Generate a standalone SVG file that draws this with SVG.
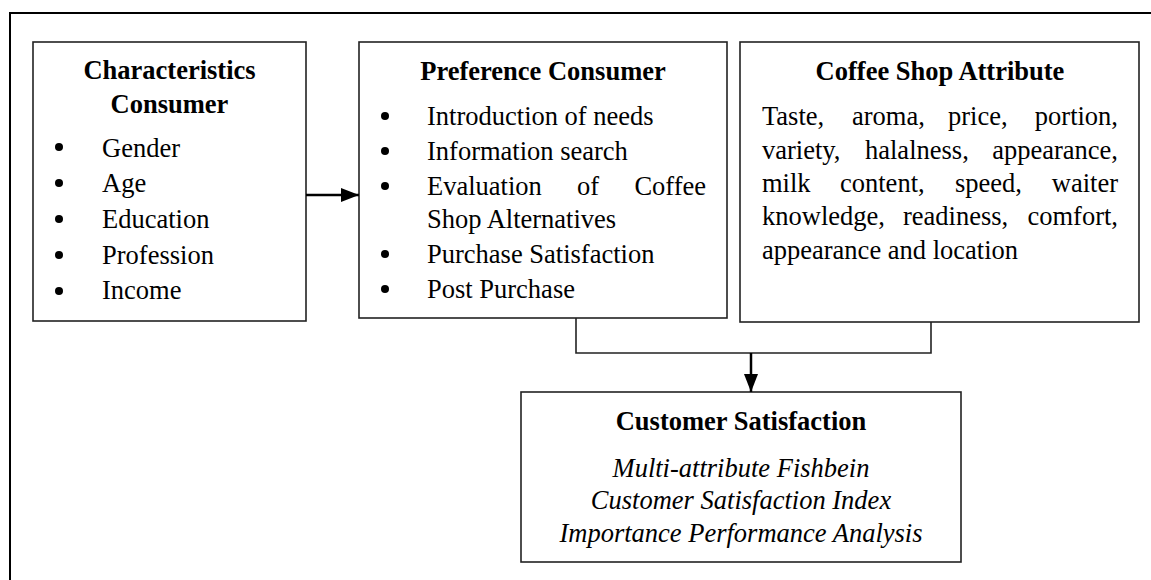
<svg xmlns="http://www.w3.org/2000/svg" width="1151" height="580" viewBox="0 0 1151 580">
<style>
.box{fill:#fff;stroke:#222;stroke-width:1.6}
.t{font-family:"Liberation Serif","Times New Roman",serif;font-size:26.5px;fill:#000}
.b{font-weight:bold}
.i{font-style:italic}
.c{text-anchor:middle}
.e{text-anchor:end}
.ln{fill:none;stroke:#222;stroke-width:1.6}
.arr{fill:none;stroke:#000;stroke-width:2.5}
.frame{fill:none;stroke:#000;stroke-width:2}
</style>
<defs>
<marker id="ah" markerWidth="18" markerHeight="14" refX="18" refY="7" orient="auto" markerUnits="userSpaceOnUse" viewBox="0 0 18 14">
<path d="M0,0 L18,7 L0,14 z" fill="#000"/>
</marker>
</defs>
<rect width="1151" height="580" fill="#fff"/>
<path class="frame" d="M10,580 V13 H1151"/>

<g id="characteristics">
<rect class="box" x="33" y="42" width="273" height="279"/>
<text class="t b c" x="169.5" y="79">Characteristics</text>
<text class="t b c" x="169.5" y="113">Consumer</text>
<g fill="#000"><circle cx="59" cy="147" r="4"/><circle cx="59" cy="183" r="4"/><circle cx="59" cy="219" r="4"/><circle cx="59" cy="255" r="4"/><circle cx="59" cy="291" r="4"/></g>
<text class="t" x="102" y="157">Gender</text>
<text class="t" x="102" y="192">Age</text>
<text class="t" x="102" y="228">Education</text>
<text class="t" x="102" y="264">Profession</text>
<text class="t" x="102" y="299">Income</text>
</g>

<g id="preference">
<rect class="box" x="359" y="42" width="368" height="276"/>
<text class="t b c" x="543" y="80">Preference Consumer</text>
<g fill="#000"><circle cx="385" cy="116" r="4"/><circle cx="385" cy="151" r="4"/><circle cx="385" cy="186" r="4"/><circle cx="385" cy="254" r="4"/><circle cx="385" cy="289" r="4"/></g>
<text class="t" x="427" y="125">Introduction of needs</text>
<text class="t" x="427" y="160">Information search</text>
<text class="t" x="427" y="195">Evaluation</text>
<text class="t" x="577" y="195">of</text>
<text class="t e" x="706" y="195">Coffee</text>
<text class="t" x="427" y="228">Shop Alternatives</text>
<text class="t" x="427" y="263">Purchase Satisfaction</text>
<text class="t" x="427" y="298">Post Purchase</text>
</g>

<g id="attribute">
<rect class="box" x="740" y="42" width="399" height="280"/>
<text class="t b c" x="940" y="80">Coffee Shop Attribute</text>
<text class="t" x="762" y="125">Taste,</text>
<text class="t" x="852" y="125">aroma,</text>
<text class="t" x="948" y="125">price,</text>
<text class="t e" x="1118" y="125">portion,</text>
<text class="t" x="762" y="158.5">variety,</text>
<text class="t" x="865" y="158.5">halalness,</text>
<text class="t e" x="1118" y="158.5">appearance,</text>
<text class="t" x="762" y="192">milk</text>
<text class="t" x="840" y="192">content,</text>
<text class="t" x="955" y="192">speed,</text>
<text class="t e" x="1118" y="192">waiter</text>
<text class="t" x="762" y="225">knowledge,</text>
<text class="t" x="903" y="225">readiness,</text>
<text class="t e" x="1118" y="225">comfort,</text>
<text class="t" x="762" y="258.5">appearance and location</text>
</g>

<g id="satisfaction">
<rect class="box" x="521" y="392" width="440" height="170"/>
<text class="t b c" x="741" y="430">Customer Satisfaction</text>
<text class="t i c" x="741" y="477">Multi-attribute Fishbein</text>
<text class="t i c" x="741" y="509">Customer Satisfaction Index</text>
<text class="t i c" x="741" y="542">Importance Performance Analysis</text>
</g>

<g id="connectors">
<line class="arr" x1="306" y1="195" x2="359" y2="195" marker-end="url(#ah)"/>
<path class="ln" d="M576,318 V353 H931 V322"/>
<line class="arr" x1="751" y1="353" x2="751" y2="392" marker-end="url(#ah)"/>
</g>
</svg>
